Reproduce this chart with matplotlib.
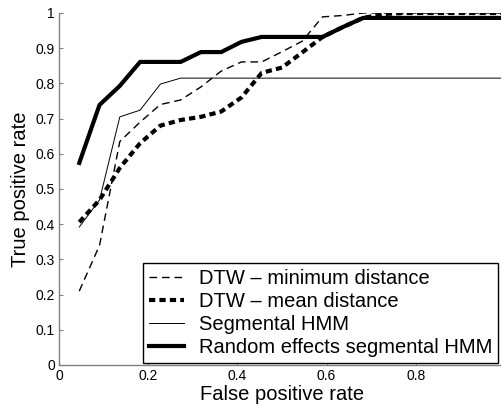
import matplotlib
matplotlib.use('Agg')
import matplotlib.pyplot as plt

plt.rcParams['font.family'] = ['Liberation Sans', 'DejaVu Sans']

# 偽陽性率 (k/22)
fpr = [k / 22 for k in range(1, 23)]

# 各手法の真陽性率
dtw_min = [0.21, 0.34, 0.635, 0.69, 0.74, 0.753, 0.79, 0.835, 0.861, 0.861, 0.89,
           0.92, 0.989, 0.993, 1.0, 1.0, 1.0, 1.0, 1.0, 1.0, 1.0, 1.0]
dtw_mean = [0.406, 0.469, 0.56, 0.63, 0.68, 0.696, 0.705, 0.72, 0.76, 0.83, 0.845,
            0.888, 0.932, 0.96, 0.986, 0.997, 1.0, 1.0, 1.0, 1.0, 1.0, 1.0]
seg_hmm = [0.392, 0.469, 0.705, 0.724, 0.798, 0.815, 0.815, 0.815, 0.815, 0.815, 0.815,
           0.815, 0.815, 0.815, 0.815, 0.815, 0.815, 0.815, 0.815, 0.815, 0.815, 0.815]
re_seg_hmm = [0.574, 0.739, 0.793, 0.861, 0.861, 0.861, 0.889, 0.889, 0.918, 0.932, 0.932,
              0.932, 0.932, 0.96, 0.986, 0.986, 0.986, 0.986, 0.986, 0.986, 0.986, 0.986]

labels = ['DTW \u2013 minimum distance', 'DTW \u2013 mean distance',
          'Segmental HMM', 'Random effects segmental HMM']

fig = plt.figure(figsize=(5.01, 4.05), dpi=100)
ax = fig.add_axes([59 / 501, 40 / 405, 446 / 501, 352 / 405])

ax.plot(fpr, dtw_min, color='black', lw=1.0, dashes=(5.5, 3.5), label=labels[0])
ax.plot(fpr, dtw_mean, color='black', lw=3.0, dashes=(1.5, 1.0), label=labels[1])
ax.plot(fpr, seg_hmm, color='black', lw=0.7, label=labels[2])
ax.plot(fpr, re_seg_hmm, color='black', lw=3.0, label=labels[3])

ax.set_xlim(0, 1)
ax.set_ylim(0, 1)
# 右端の「1」は画像外なので目盛ラベルなし
ax.set_xticks([0, 0.2, 0.4, 0.6, 0.8])
ax.set_xticklabels(['0', '0.2', '0.4', '0.6', '0.8'])
ax.set_yticks([i / 10 for i in range(11)])
ax.set_yticklabels(['0', '0.1', '0.2', '0.3', '0.4', '0.5', '0.6', '0.7', '0.8', '0.9', '1'])

for side in ['top', 'right']:
    ax.spines[side].set_visible(False)
for side in ['left', 'bottom']:
    ax.spines[side].set_color('#808080')
    ax.spines[side].set_linewidth(1.0)
ax.tick_params(direction='in', length=3, color='#808080', labelsize=10, pad=3)

ax.set_xlabel('False positive rate', fontsize=14.5, labelpad=1)
ax.set_ylabel('True positive rate', fontsize=14.5, labelpad=4)

leg = ax.legend(loc='lower right', bbox_to_anchor=(441 / 446, 0.0), fontsize=14.5,
                frameon=True, fancybox=False, edgecolor='black', framealpha=1,
                handlelength=1.75, handletextpad=0.7, labelspacing=0.2,
                borderpad=0.3, borderaxespad=0.1)
leg.get_frame().set_linewidth(1.0)

fig.savefig('out.png', dpi=100)
